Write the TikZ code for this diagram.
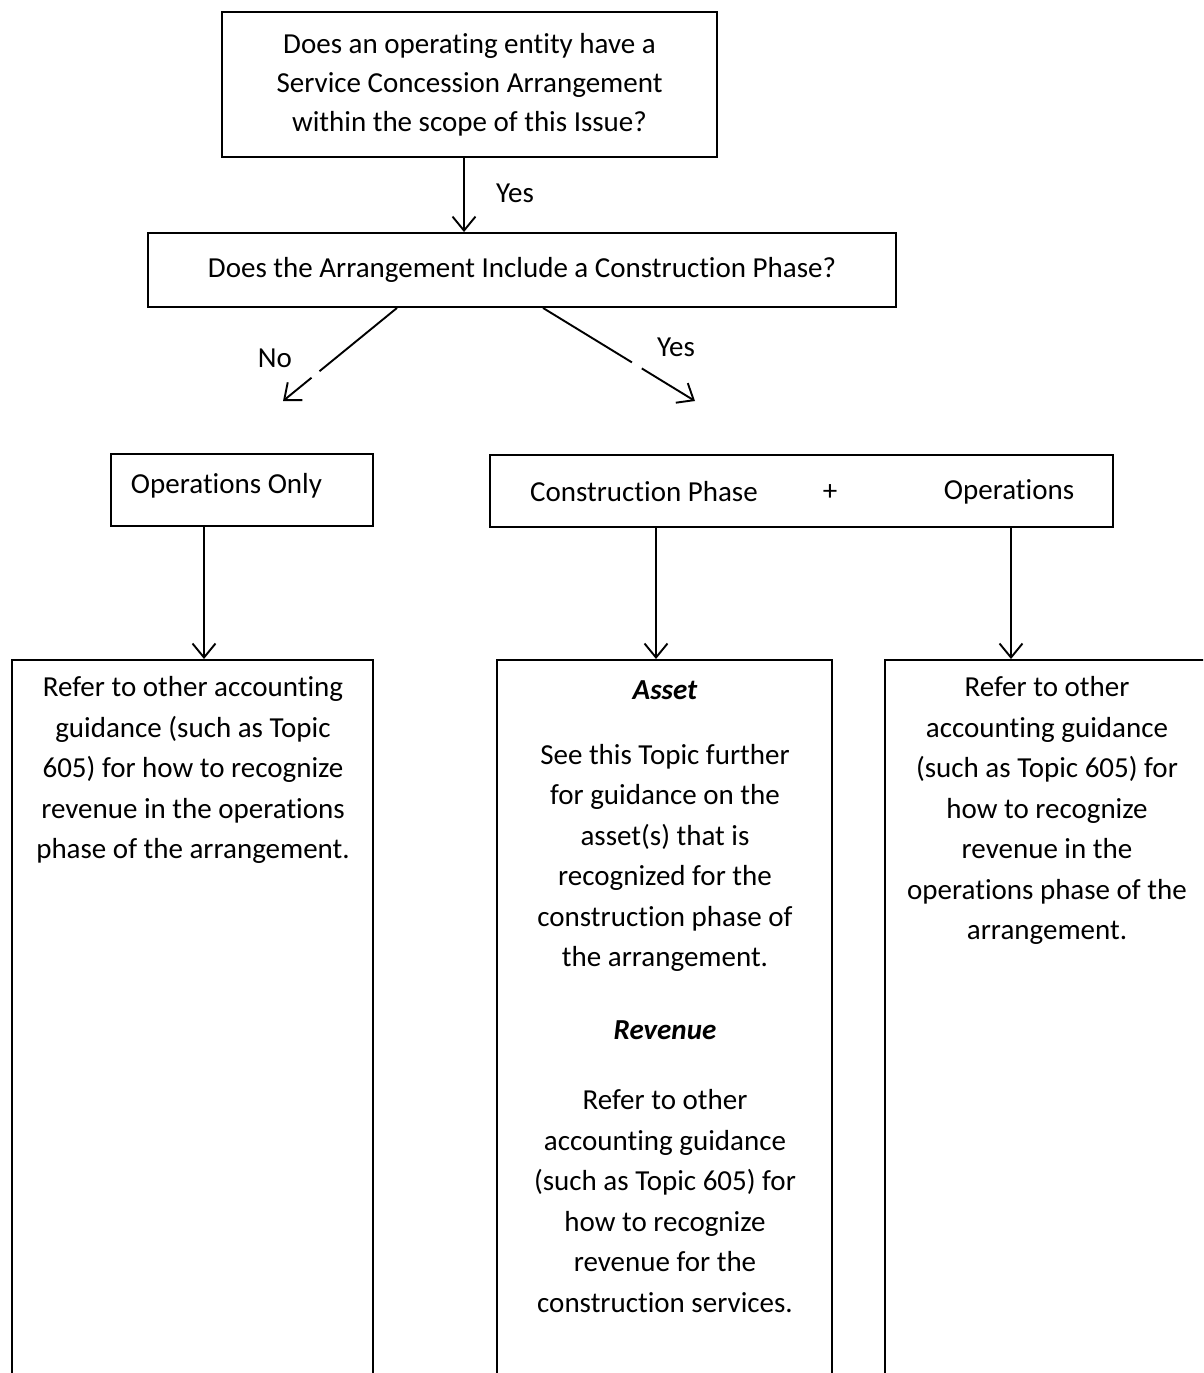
\documentclass[tikz,border=0pt]{standalone}
\usepackage{fontspec}
\setmainfont[Ligatures=NoCommon]{Carlito}
\usetikzlibrary{arrows.meta,calc}
\begin{document}
\begin{tikzpicture}[x=1pt,y=-1pt,
  box/.style={draw, line width=1.9pt, inner sep=0pt},
  txt/.style={font=\fontsize{29}{40.5}\selectfont, align=center, inner sep=0pt},
  head/.style={txt, font=\fontsize{29}{40.5}\selectfont\bfseries\itshape},
  seg/.style={line width=1.9pt},
  arr/.style={line width=1.9pt, -{Straight Barb[length=14pt,width=23pt]}}]
\useasboundingbox (0,0) rectangle (1203,1373);
\clip (0,0) rectangle (1203,1373);
\fill[white] (0,0) rectangle (1203,1373);

% top question
\node[box, txt, font=\fontsize{29}{39}\selectfont, minimum width=495pt, minimum height=145pt] (q1) at (469.5,84.5)
  {Does an operating entity have a\\Service Concession Arrangement\\within the scope of this Issue?};
% second question
\node[box, txt, minimum width=748pt, minimum height=74pt] (q2) at (522,270)
  {Does the Arrangement Include a Construction Phase?};

% operations only
\node[box, minimum width=262pt, minimum height=72pt] (oo) at (242,490) {};
\node[txt] (ootext) at (226.5,486) {Operations Only};

% construction + operations
\node[box, minimum width=623pt, minimum height=72pt] (cp) at (801.5,491) {};
\node[txt] (cptext) at (644,492) {Construction Phase};
\node[txt] (plus) at (830,493) {+};
\node[txt] (optext) at (1009,492) {Operations};

% bottom boxes (open below / right)
\node[box, minimum width=361pt, minimum height=760pt, anchor=north] (lb) at (192.5,659) {};
\node[box, minimum width=335pt, minimum height=760pt, anchor=north] (mb) at (664.5,659) {};
\node[box, minimum width=330pt, minimum height=760pt, anchor=north] (rb) at (1050,659) {};

\node[txt] (lbt) at (193,770)
  {Refer to other accounting\\guidance (such as Topic\\605) for how to recognize\\revenue in the operations\\phase of the arrangement.};

\node[head] (mah) at (665,690) {Asset};
\node[txt] (mat) at (665,858)
  {See this Topic further\\for guidance on the\\asset(s) that is\\recognized for the\\construction phase of\\the arrangement.};
\node[head] (mrh) at (665,1030) {Revenue};
\node[txt] (mrt) at (665,1201)
  {Refer to other\\accounting guidance\\(such as Topic 605) for\\how to recognize\\revenue for the\\construction services.};

\node[txt] (rbt) at (1047,810.5)
  {Refer to other\\accounting guidance\\(such as Topic 605) for\\how to recognize\\revenue in the\\operations phase of the\\arrangement.};

% connectors
\coordinate (ax1) at (464,0);
\draw[arr] (q1.south -| ax1) -- (q2.north -| ax1);
\node[txt] (yes1) at (515,193) {Yes};

\coordinate (noX) at (397,0);
\coordinate (noS) at (q2.south -| noX);
\coordinate (noTip) at (283,401);
\draw[seg] (noS) -- ($(noS)!0.68!(noTip)$);
\draw[arr] ($(noS)!0.75!(noTip)$) -- (noTip);
\node[txt] (nolbl) at (275,358) {No};

\coordinate (ysX) at (543,0);
\coordinate (ysS) at (q2.south -| ysX);
\coordinate (ysTip) at (695,401);
\draw[seg] (ysS) -- ($(ysS)!0.585!(ysTip)$);
\draw[arr] ($(ysS)!0.65!(ysTip)$) -- (ysTip);
\node[txt] (yeslbl) at (676,347) {Yes};

\coordinate (v1) at (204,0);
\coordinate (v2) at (656,0);
\coordinate (v3) at (1011,0);
\draw[arr] (oo.south -| v1) -- (lb.north -| v1);
\draw[arr] (cp.south -| v2) -- (mb.north -| v2);
\draw[arr] (cp.south -| v3) -- (rb.north -| v3);
\end{tikzpicture}
\end{document}
